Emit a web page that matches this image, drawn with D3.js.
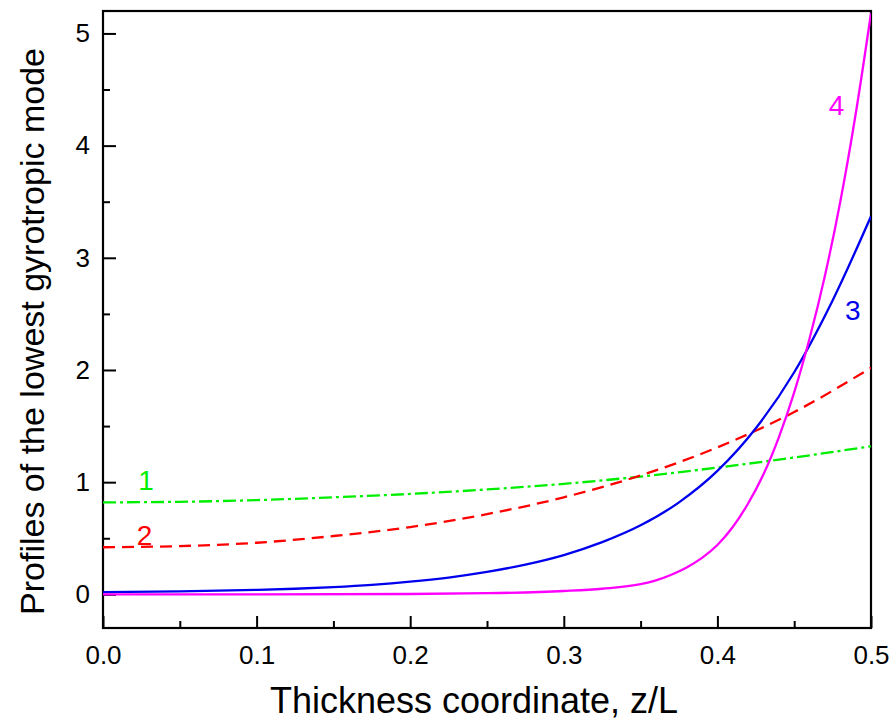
<!DOCTYPE html>
<html>
<head>
<meta charset="utf-8">
<script src="https://cdn.jsdelivr.net/npm/d3@7/dist/d3.min.js"></script>
<style>
	body { margin: 0; background: #fff; }
	svg text { font-family: "Liberation Sans", Arial, sans-serif; }
</style>
</head>
<body>
<div id="chart"></div>
<script>
// z/L positions and profile values
var zGrid = [0, 0.05, 0.1, 0.15, 0.2, 0.25, 0.3, 0.35, 0.4, 0.45, 0.5];
var curve1 = [0.82, 0.825, 0.84, 0.865, 0.895, 0.935, 0.985, 1.05, 1.13, 1.22, 1.32];
var curve2 = [0.42, 0.43, 0.46, 0.52, 0.60, 0.715, 0.865, 1.06, 1.31, 1.625, 2.02];

var zBlue = [0, 0.05, 0.1, 0.125, 0.15, 0.175, 0.2, 0.225, 0.25, 0.275, 0.3, 0.325, 0.35, 0.375, 0.4, 0.425, 0.45, 0.475, 0.5];
var curve3 = [0.02, 0.027, 0.04, 0.05, 0.065, 0.085, 0.113, 0.15, 0.2, 0.265, 0.35, 0.465, 0.615, 0.82, 1.10, 1.48, 1.98, 2.62, 3.37];

var zMag = [0, 0.1, 0.2, 0.25, 0.3, 0.325, 0.35, 0.36, 0.37, 0.38, 0.39, 0.4, 0.41, 0.42, 0.43, 0.44, 0.45, 0.46, 0.47, 0.48, 0.49, 0.5];
var curve4 = [0, 0, 0.003, 0.01, 0.03, 0.05, 0.09, 0.125, 0.175, 0.24, 0.325, 0.44, 0.6, 0.81, 1.07, 1.4, 1.8, 2.28, 2.84, 3.5, 4.28, 5.18];

var xTicks = [0, 0.1, 0.2, 0.3, 0.4, 0.5];
var yTicks = [0, 1, 2, 3, 4, 5];

var series = [
	{z: zGrid, v: curve1, color: "#00ee00", dash: "13,4,3,4", label: "1", lx: 0.023, ly: 0.93},
	{z: zGrid, v: curve2, color: "#ff0000", dash: "12,7", label: "2", lx: 0.022, ly: 0.44},
	{z: zBlue, v: curve3, color: "#0000ee", dash: null, label: "3", lx: 0.483, ly: 2.45},
	{z: zMag, v: curve4, color: "#ff00ff", dash: null, label: "4", lx: 0.4725, ly: 4.27}
];

var margin = {top: 11, right: 23, left: 103, bottom: 94},
		width = 894 - margin.left - margin.right,
		height = 722 - margin.top - margin.bottom;

var x = d3.scaleLinear().domain([0, 0.5]).range([0, width]);
var y = d3.scaleLinear().domain([-0.3, 5.2]).range([height, 0]);

var svg = d3.select("div#chart").append("svg")
		.attr("width", 894)
		.attr("height", 722)
	.append("g")
		.attr("transform", "translate(" + margin.left + "," + margin.top + ")");

svg.append("defs").append("clipPath").attr("id", "clip")
	.append("rect").attr("width", width).attr("height", height);

// minor ticks
var xAxisMinor = d3.axisBottom(x).tickValues(d3.range(0.05, 0.5, 0.1)).tickSize(-7).tickFormat("");
var yAxisMinor = d3.axisLeft(y).tickValues(d3.range(0.5, 5.2, 1)).tickSize(-7).tickFormat("");

svg.append("g")
	.attr("class", "x minor")
	.attr("transform", "translate(0," + height + ")")
	.call(xAxisMinor);
svg.append("g")
	.attr("class", "y minor")
	.call(yAxisMinor);

var xAxis = d3.axisBottom(x).tickValues(xTicks).tickSize(-12).tickPadding(18).tickFormat(d3.format(".1f"));
var yAxis = d3.axisLeft(y).tickValues(yTicks).tickSize(-13).tickPadding(13).tickFormat(d3.format("d"));

svg.append("g")
	.attr("class", "x axis")
	.attr("transform", "translate(0," + height + ")")
	.call(xAxis);
svg.append("g")
	.attr("class", "y axis")
	.call(yAxis);

svg.selectAll(".axis path, .minor path").remove();
svg.selectAll(".axis line, .minor line").attr("stroke", "#000").attr("stroke-width", 2);
svg.selectAll(".axis text")
	.attr("font-size", 26)
	.attr("fill", "#000");

// frame
svg.append("rect")
	.attr("width", width)
	.attr("height", height)
	.attr("fill", "none")
	.attr("stroke", "#000")
	.attr("stroke-width", 2.2);

var line = d3.line()
	.x(function(d) { return x(d[0]); })
	.y(function(d) { return y(d[1]); })
	.curve(d3.curveMonotoneX);

var plot = svg.append("g").attr("clip-path", "url(#clip)");

series.forEach(function(s) {
	plot.append("path")
		.datum(d3.zip(s.z, s.v))
		.attr("fill", "none")
		.attr("stroke", s.color)
		.attr("stroke-width", 2.3)
		.attr("stroke-dasharray", s.dash)
		.attr("d", line);

	svg.append("text")
		.attr("x", x(s.lx))
		.attr("y", y(s.ly))
		.attr("fill", s.color)
		.attr("font-size", 28)
		.text(s.label);
});

svg.append("text")
	.attr("text-anchor", "middle")
	.attr("x", width / 2 - 13)
	.attr("y", height + 85)
	.attr("font-size", 36)
	.text("Thickness coordinate, z/L");

svg.append("text")
	.attr("text-anchor", "middle")
	.attr("transform", "translate(" + (-margin.left + 44) + "," + (height / 2 + 12) + ") rotate(-90)")
	.attr("font-size", 34)
	.text("Profiles of the lowest gyrotropic mode");
</script>
</body>
</html>
